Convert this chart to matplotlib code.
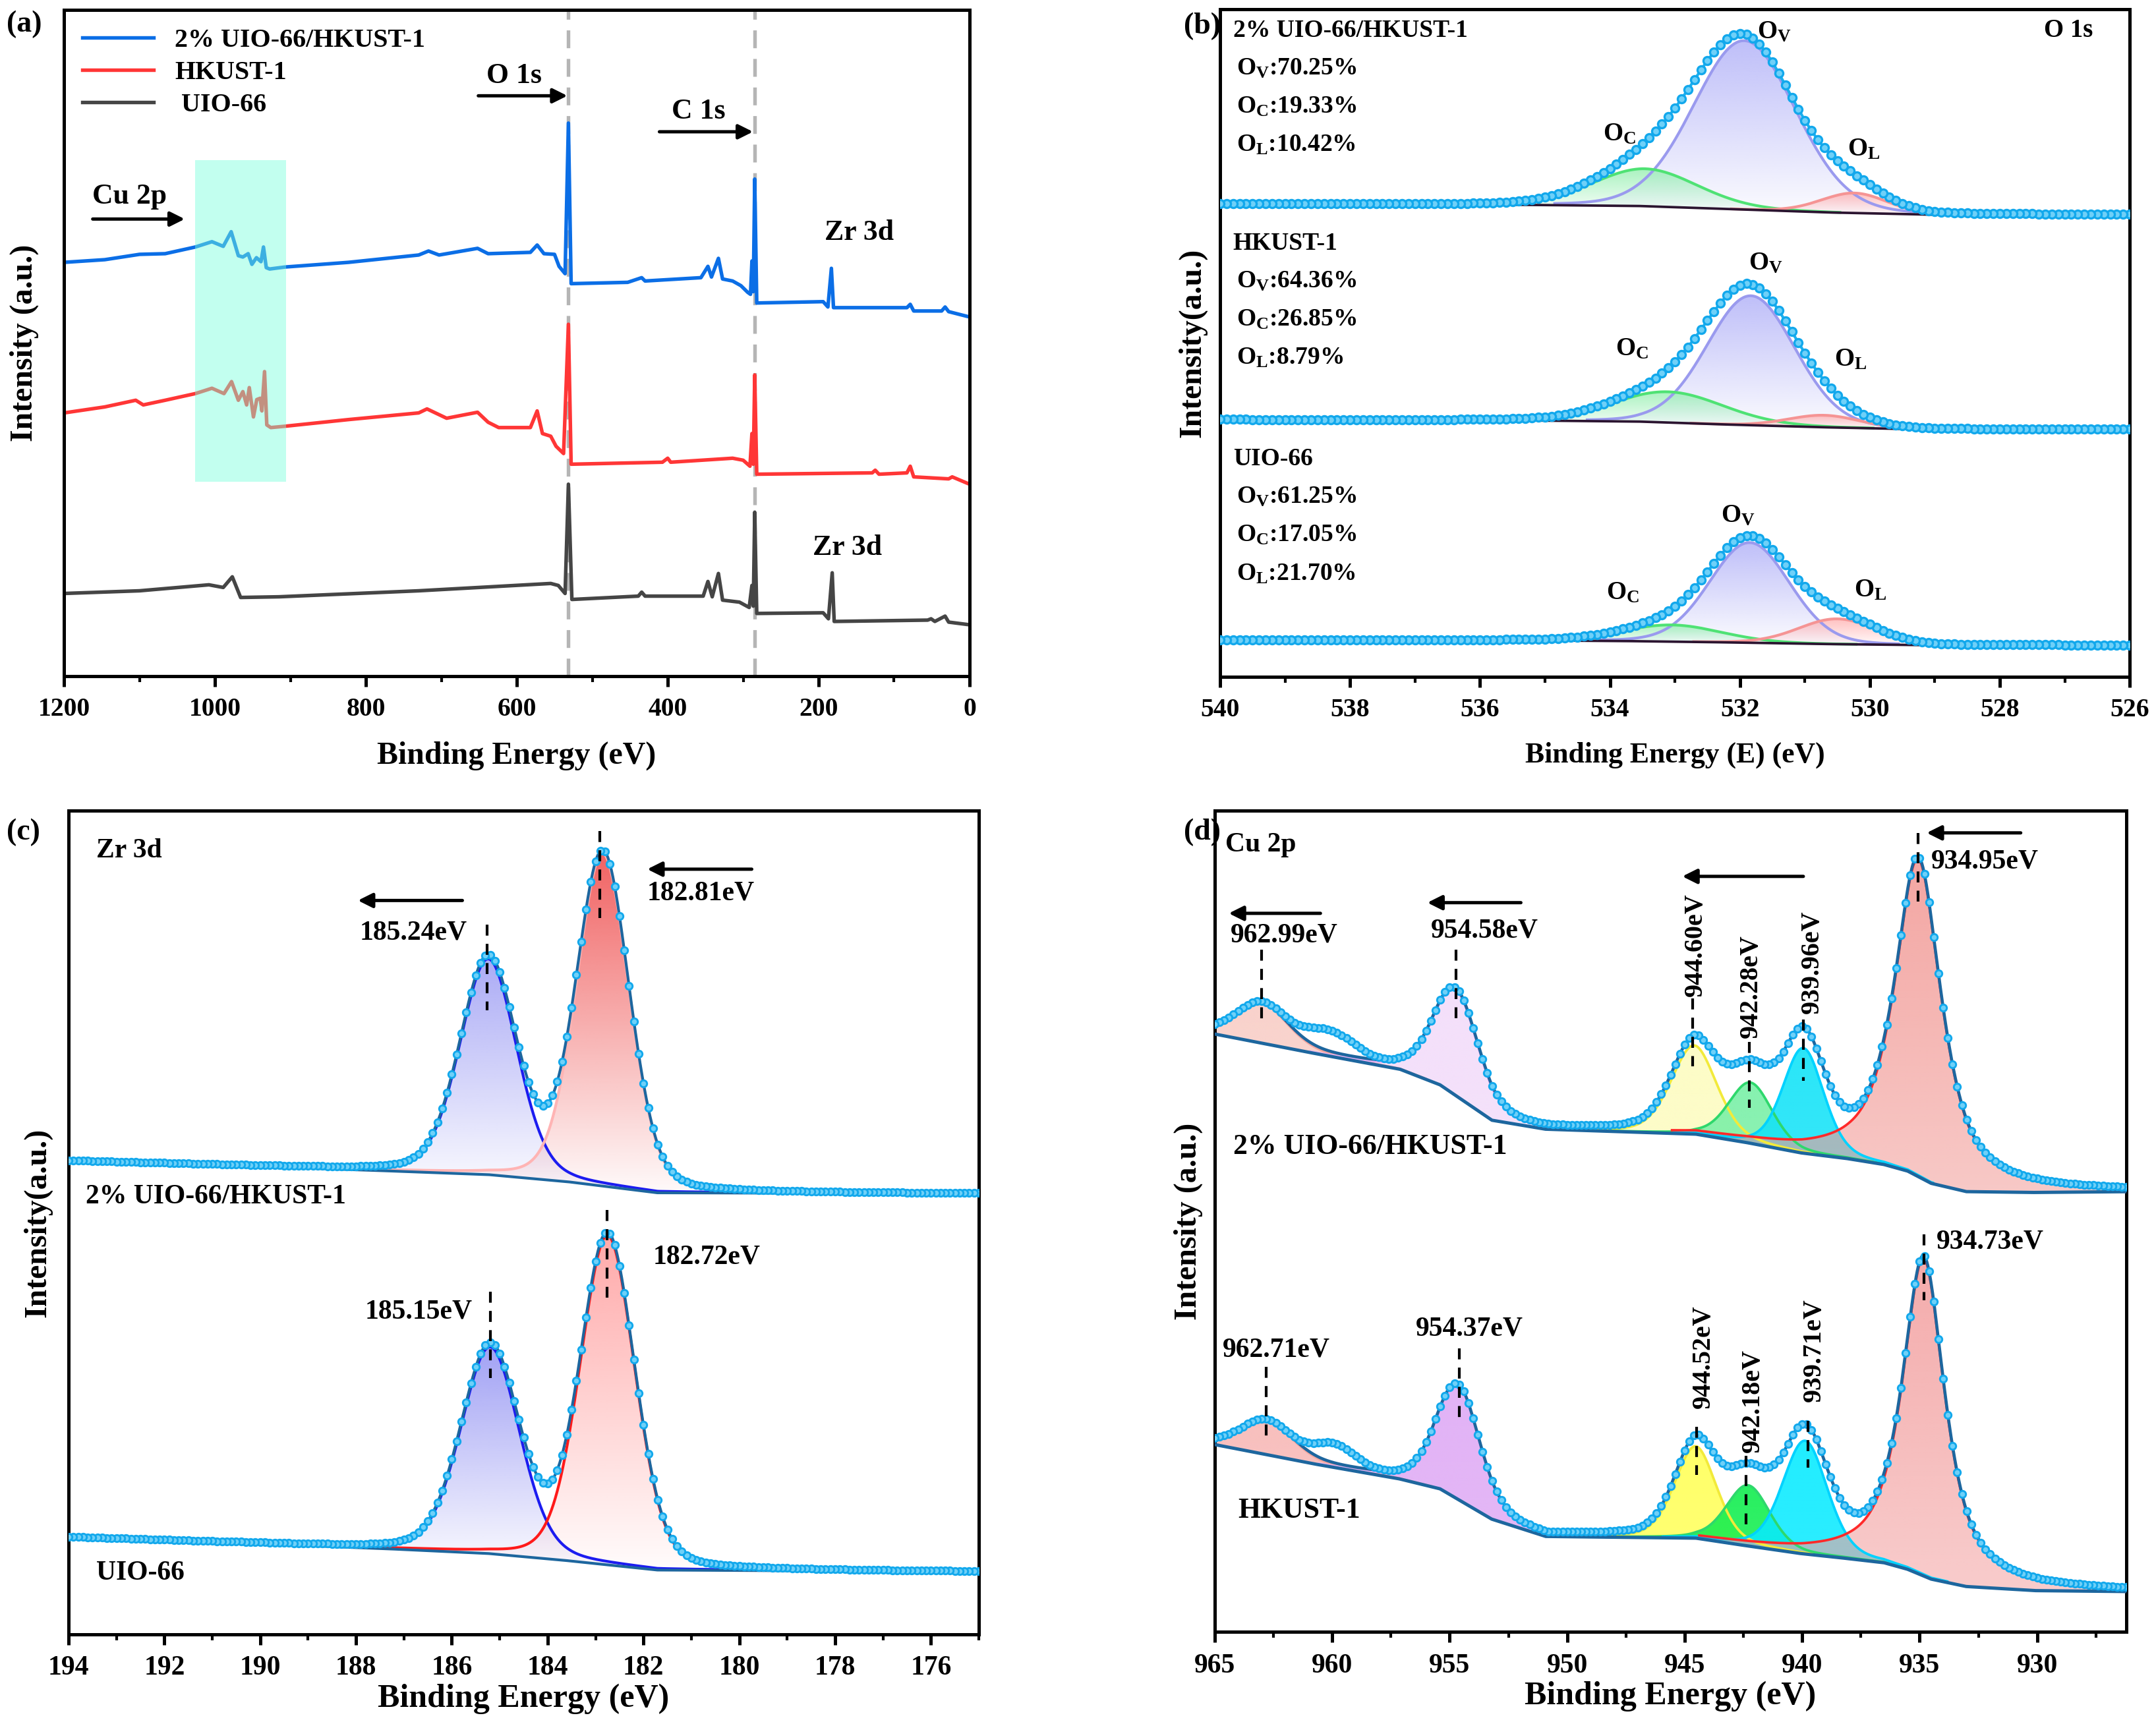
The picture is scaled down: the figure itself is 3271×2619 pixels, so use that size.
#!/usr/bin/env python3

import numpy as np
import matplotlib
matplotlib.use("Agg")
from matplotlib import pyplot as plt
from matplotlib.colors import to_rgb
from matplotlib.patches import Polygon
from matplotlib.ticker import MultipleLocator


# (a) survey spectra: binding energy (eV) and intensity (a.u., 0-100 of the axis)
survey_labels = ["2% UIO-66/HKUST-1", "HKUST-1", " UIO-66"]
blue_e = [1200, 1146, 1100, 1066, 1026, 1004, 989, 978.5, 969, 963, 956, 951,
          945, 939, 935.7, 932, 927.5, 907, 823, 730, 717, 703, 652, 638, 582,
          573, 564, 550, 544, 536, 531.6, 528, 453, 434.5, 430, 356, 346.7,
          342, 332.8, 327.3, 314, 303, 294, 290.3, 288.4, 286.6, 284.7, 282,
          194, 187.7, 183.1, 180.3, 83, 78.6, 74, 37, 32.4, 27.7, 0]
blue_i = [62.1, 62.5, 63.3, 63.4, 64.4, 65.2, 64.5, 66.7, 63.1, 62.9, 63.4, 61.8,
          62.8, 62.2, 64.4, 61.3, 61.1, 61.4, 62.1, 63.2, 63.8, 63.2, 64.2, 63.4,
          63.6, 64.7, 63.4, 63.3, 61.5, 60.4, 83.0, 58.9, 59.1, 59.8, 59.3, 59.8,
          61.5, 59.9, 62.7, 59.6, 59.3, 58.6, 57.6, 57.3, 62.3, 57.7, 74.6, 56.0,
          56.2, 55.4, 61.2, 55.3, 55.3, 55.8, 54.8, 54.8, 55.4, 54.7, 53.9]
red_e = [1200, 1146, 1105, 1095, 1066, 1026, 1004, 988, 978, 969, 963, 958,
         954.5, 949, 944.6, 940, 937.8, 934.3, 931.3, 926, 907, 823, 730, 719,
         693, 652, 638, 624, 582, 573, 566, 555, 548, 538, 531.6, 528, 407, 400,
         396, 314, 300, 291, 288.4, 286.6, 284.7, 282, 129, 125, 120, 83, 78.6,
         74, 27.7, 23, 0]
red_i = [39.5, 40.4, 41.4, 40.7, 41.4, 42.4, 43.2, 42.4, 44.2, 41.4, 42.7, 40.7,
         43.3, 38.9, 41.5, 41.7, 39.8, 45.7, 37.7, 37.3, 37.5, 38.5, 39.5, 40.1,
         38.7, 39.6, 38.1, 37.3, 37.3, 39.8, 36.4, 36.0, 34.5, 33.4, 52.8, 31.8,
         32.1, 32.7, 32.1, 32.7, 32.4, 31.5, 36.4, 31.8, 45.2, 30.3, 30.5, 30.9,
         30.3, 30.5, 31.5, 29.9, 29.6, 29.9, 28.8]
gray_e = [1200, 1100, 1008, 989, 977, 966, 915, 730, 555, 545, 536, 531.6, 527,
          439, 434.5, 430, 353, 346.7, 341, 332.8, 327.3, 305, 292, 288.4, 286.6,
          284.7, 282, 194, 187, 182, 179.4, 55.5, 51, 46, 32.4, 27.7, 0]
gray_i = [12.4, 12.8, 13.7, 13.3, 14.9, 11.8, 11.9, 12.8, 13.9, 13.6, 12.4, 28.8,
          11.5, 12.0, 12.6, 12.0, 12.0, 14.2, 11.9, 15.4, 11.4, 11.1, 10.3, 13.6,
          10.5, 24.6, 9.4, 9.5, 8.6, 15.5, 8.2, 8.4, 8.6, 8.2, 9.0, 8.1, 7.7]
survey_lines_e = [531.6, 284.7]
cu_box_e = [906, 1026]
cu_box_i = [29.2, 77.4]

# (b) O 1s fits, components in order Ov, Oc, OL
o1s_names = ["2% UIO-66/HKUST-1", "HKUST-1", "UIO-66"]
o1s_percent = [["70.25", "19.33", "10.42"],
               ["64.36", "26.85", "8.79"],
               ["61.25", "17.05", "21.70"]]
o1s_base_e = [526, 529, 530.5, 532, 533.5, 535.5, 540]
o1s_base_i = [[69.2, 69.2, 69.5, 70.0, 70.5, 70.7, 70.8],
              [37.0, 37.0, 37.3, 37.7, 38.2, 38.4, 38.5],
              [4.7, 4.7, 4.85, 5.1, 5.3, 5.45, 5.5]]
o1s_center = [[531.93, 533.46, 530.24], [531.83, 533.1, 530.7], [531.85, 533.05, 530.5]]
o1s_height = [[25.3, 5.6, 3.0], [19.4, 4.6, 1.8], [15.0, 2.5, 3.8]]
o1s_fwhm = [[1.85, 1.9, 1.2], [1.6, 2.0, 1.3], [1.45, 1.8, 1.4]]

# (c) Zr 3d fits, components 3d3/2 and 3d5/2
zr_names = ["2% UIO-66/HKUST-1", "UIO-66"]
zr_peak_labels = [["185.24eV", "182.81eV"], ["185.15eV", "182.72eV"]]
zr_base_e = [175, 181.7, 183.5, 185.2, 187, 190, 194]
zr_base_i = [[53.5, 53.6, 54.9, 55.8, 56.2, 56.8, 57.5],
             [7.6, 7.8, 8.9, 9.8, 10.3, 11.0, 11.8]]
zr_center = [[185.24, 182.85], [185.2, 182.75]]
zr_height = [[26.2, 40.4], [25.1, 40.0]]
zr_fwhm = [[1.4, 1.3], [1.45, 1.35]]

# (d) Cu 2p fits
cu_names = ["2% UIO-66/HKUST-1", "HKUST-1"]
cu_peak_labels = [["962.99eV", "954.58eV", "944.60eV", "942.28eV", "939.96eV", "934.95eV"],
                  ["962.71eV", "954.37eV", "944.52eV", "942.18eV", "939.71eV", "934.73eV"]]
cu_base_e = [926.2, 930, 933.0, 934.5, 935.5, 936.5, 938, 940, 942.2, 944.5,
             950.9, 953.2, 955.4, 957.1, 960.5, 965]
cu_base_i = [[53.6, 53.5, 53.6, 54.6, 56.1, 56.9, 57.6, 58.3, 59.5, 60.6,
              61.2, 62.3, 66.6, 68.5, 70.3, 72.8],
             [4.9, 5.0, 5.5, 6.4, 7.6, 8.4, 8.9, 9.5, 10.4, 11.4,
              11.6, 13.7, 17.4, 18.6, 20.3, 22.8]]
cu_center = [[963.0, 954.75, 944.6, 942.2, 939.95, 935.06],
             [962.8, 954.65, 944.54, 942.3, 939.88, 934.83]]
cu_height = [[4.9, 12.9, 10.8, 7.4, 12.8, 38.7],
             [4.2, 13.9, 11.2, 7.4, 13.8, 38.7]]
cu_fwhm = [[2.6, 2.3, 2.3, 2.2, 2.05, 2.36],
           [2.6, 2.2, 2.1, 2.2, 2.25, 2.15]]
cu_eta = [0.3, 0.3, 0.3, 0.3, 0.3, 0.8]
# shoulder near 960 eV in the measured points that the fit leaves out
cu_extra = [[960.1, 2.6, 2.4], [959.9, 2.4, 2.0]]

DOT_FACE = "#6fd0f8"
DOT_EDGE = "#12a8ec"
FIT_BLUE = "#1d669e"


def setup():
    plt.rcParams.update({
        "font.family": ["Liberation Serif", "DejaVu Serif"],
        "font.weight": "bold",
        "axes.labelweight": "bold",
        "mathtext.fontset": "custom",
        "mathtext.rm": "Liberation Serif:bold",
        "mathtext.it": "Liberation Serif:bold:italic",
        "mathtext.bf": "Liberation Serif:bold",
        "axes.linewidth": 1.2,
        "xtick.major.width": 1.2,
        "xtick.minor.width": 1.0,
        "xtick.major.size": 3.8,
        "xtick.minor.size": 2.2,
        "xtick.direction": "out",
        "xtick.major.pad": 4,
    })


def pseudo_voigt(x, center, height, fwhm, eta=0.2):
    u = (x - center) / fwhm
    gauss = np.exp(-4 * np.log(2) * u ** 2)
    lorentz = 1 / (1 + 4 * u ** 2)
    return height * ((1 - eta) * gauss + eta * lorentz)


def gradient_fill(ax, x, lower, upper, color, alpha_top, alpha_bottom, zorder):
    verts = np.column_stack([np.r_[x, x[::-1]], np.r_[upper, lower[::-1]]])
    patch = Polygon(verts, closed=True, facecolor="none", edgecolor="none")
    ax.add_patch(patch)
    grad = np.zeros((256, 1, 4))
    grad[..., :3] = to_rgb(color)
    grad[..., 3] = np.linspace(alpha_bottom, alpha_top, 256)[:, None]
    im = ax.imshow(grad, extent=[x.min(), x.max(), lower.min(), upper.max()],
                   origin="lower", aspect="auto", zorder=zorder,
                   interpolation="bilinear")
    im.set_clip_path(patch)


def style_axis(ax, xlim, major, minor, xlabel, ylabel, xsize, ysize, tsize,
               labelpad, ylabel_x):
    ax.set_xlim(*xlim)
    ax.set_ylim(0, 100)
    ax.xaxis.set_major_locator(MultipleLocator(major))
    ax.xaxis.set_minor_locator(MultipleLocator(minor))
    ax.set_yticks([])
    ax.tick_params(axis="x", which="both", top=False, labelsize=tsize)
    ax.set_xlabel(xlabel, fontsize=xsize, labelpad=labelpad)
    ax.set_ylabel(ylabel, fontsize=ysize)
    ax.yaxis.set_label_coords(ylabel_x, 0.5)


def arrow(ax, start, end, y):
    ax.annotate("", xy=(end, y), xytext=(start, y),
                arrowprops=dict(arrowstyle="-|>", color="k", lw=1.2,
                                mutation_scale=11, shrinkA=0, shrinkB=0),
                zorder=8)


def dashed(ax, x, y0, y1, color="k"):
    ax.plot([x, x], [y0, y1], color=color, lw=1.0, dashes=(4, 3), zorder=7)


def plot_survey(ax):
    style_axis(ax, (1200, 0), 200, 100, "Binding Energy (eV)", "Intensity (a.u.)",
               11.5, 11.5, 9.5, 7, -0.028)
    ax.plot(blue_e, blue_i, color="#0b6ee6", lw=1.3, label=survey_labels[0], zorder=2)
    ax.plot(red_e, red_i, color="#ff3636", lw=1.3, label=survey_labels[1], zorder=2)
    ax.plot(gray_e, gray_i, color="#454545", lw=1.3, label=survey_labels[2], zorder=2)
    for e in survey_lines_e:
        ax.axvline(e, color="#b5b5b5", lw=1.3, dashes=(5, 3), zorder=1)
    ax.fill_between(cu_box_e, cu_box_i[0], cu_box_i[1],
                    color=(120 / 255, 1.0, 220 / 255), alpha=0.45, lw=0, zorder=3)
    ax.legend(loc="upper left", frameon=False, fontsize=9.6, handlelength=2.7,
              handletextpad=0.8, labelspacing=0.3, borderaxespad=0.3)

    ax.text(603.7, 90.1, "O 1s", fontsize=10.5, ha="center", va="center")
    arrow(ax, 651, 533, 87.1)
    ax.text(358.7, 84.8, "C 1s", fontsize=10.5, ha="center", va="center")
    arrow(ax, 411, 287, 81.7)
    ax.text(1113, 72.0, "Cu 2p", fontsize=10.5, ha="center", va="center")
    arrow(ax, 1162, 1040, 68.6)
    ax.text(146, 66.6, "Zr 3d", fontsize=10.5, ha="center", va="center")
    ax.text(161.8, 19.3, "Zr 3d", fontsize=10.5, ha="center", va="center")


def plot_o1s(ax):
    style_axis(ax, (540, 526), 2, 1, "Binding Energy (E) (eV)", "Intensity(a.u.)",
               10.5, 11.5, 9.5, 7, -0.0145)
    xf = np.linspace(526, 540, 1401)
    xp = np.arange(526, 540.001, 0.1)
    fills = ["#a9a9f7", "#8eefab", "#ffaaaa"]
    lines = ["#9a9aee", "#4fe274", "#f59494"]
    subs = ["V", "C", "L"]
    for k in range(3):
        base_f = np.interp(xf, o1s_base_e, o1s_base_i[k])
        total = np.interp(xp, o1s_base_e, o1s_base_i[k])
        for j in range(3):
            c, h, w = o1s_center[k][j], o1s_height[k][j], o1s_fwhm[k][j]
            comp = pseudo_voigt(xf, c, h, w, 0.1)
            m = comp > 0.01 * h
            gradient_fill(ax, xf[m], base_f[m], base_f[m] + comp[m], fills[j],
                          0.75, 0.04, 2)
            ax.plot(xf[m], base_f[m] + comp[m], color=lines[j], lw=1.0, zorder=3)
            total = total + pseudo_voigt(xp, c, h, w, 0.1)
        fit = (xf >= 528.8) & (xf <= 535.6)
        ax.plot(xf[fit], base_f[fit], color="#2b1430", lw=0.9, zorder=3)
        ax.plot(xp, total, "-o", color="#1cb0ee", lw=1.0, ms=2.9, mfc=DOT_FACE,
                mec=DOT_EDGE, mew=0.8, zorder=5)

    name_y = [96.8, 64.9, 32.6]
    for k in range(3):
        ax.text(539.8, name_y[k], o1s_names[k], fontsize=9.0, ha="left", va="center")
        for j in range(3):
            ax.text(539.75, name_y[k] - 5.6 - 5.8 * j,
                    "O$_\\mathrm{%s}$:%s%%" % (subs[j], o1s_percent[k][j]),
                    fontsize=9.0, ha="left", va="center")
    ax.text(526.94, 96.8, "O 1s", fontsize=9.3, ha="center", va="center")
    peak_tags = [[(531.47, 96.6), (533.85, 81.2), (530.09, 79.0)],
                 [(531.6, 61.9), (533.66, 49.1), (530.29, 47.5)],
                 [(532.03, 24.1), (533.8, 12.5), (529.99, 12.9)]]
    for k in range(3):
        for j in range(3):
            x, y = peak_tags[k][j]
            ax.text(x, y, "O$_\\mathrm{%s}$" % subs[j], fontsize=9.3,
                    ha="center", va="center", zorder=9)


def plot_zr3d(ax):
    style_axis(ax, (194, 175), 2, 1, "Binding Energy (eV)", "Intensity(a.u.)",
               12, 11.5, 10, 1, -0.018)
    xf = np.linspace(175, 194, 1901)
    xp = np.arange(175, 194.001, 0.1)
    styles = [
        [("#9c9cf4", 0.85, "#1c1cf0"), ("#f05a5a", 0.95, "#ffb4b4")],
        [("#8a8af2", 0.80, "#1c1cf0"), ("#ff9a9a", 0.85, "#ff1a1a")],
    ]
    for k in range(2):
        base_f = np.interp(xf, zr_base_e, zr_base_i[k])
        env_f = base_f.copy()
        total = np.interp(xp, zr_base_e, zr_base_i[k])
        for j in range(2):
            c, h, w = zr_center[k][j], zr_height[k][j], zr_fwhm[k][j]
            comp = pseudo_voigt(xf, c, h, w, 0.2)
            fill, a_top, line = styles[k][j]
            m = comp > 0.004 * h
            gradient_fill(ax, xf[m], base_f[m], base_f[m] + comp[m], fill,
                          a_top, 0.03, 2)
            ax.plot(xf[m], base_f[m] + comp[m], color=line, lw=1.0, zorder=3)
            env_f = env_f + comp
            total = total + pseudo_voigt(xp, c, h, w, 0.2)
        ax.plot(xf, base_f, color=FIT_BLUE, lw=1.0, zorder=3)
        ax.plot(xf, env_f, color=FIT_BLUE, lw=1.0, zorder=4)
        ax.plot(xp, total, "o", ms=2.5, mfc=DOT_FACE, mec=DOT_EDGE, mew=0.7, zorder=5)

    ax.text(193.42, 95.1, "Zr 3d", fontsize=10, ha="left", va="center")
    ax.text(193.64, 53.1, zr_names[0], fontsize=10, ha="left", va="center")
    ax.text(193.42, 7.4, zr_names[1], fontsize=10, ha="left", va="center")

    dashed(ax, 185.27, 86.2, 75.8)
    dashed(ax, 182.91, 97.5, 87.0)
    dashed(ax, 185.19, 41.6, 31.1)
    dashed(ax, 182.76, 51.5, 40.9)
    ax.text(186.8, 85.2, zr_peak_labels[0][0], fontsize=10, ha="center", va="center")
    ax.text(180.8, 90.0, zr_peak_labels[0][1], fontsize=10, ha="center", va="center")
    ax.text(186.69, 39.2, zr_peak_labels[1][0], fontsize=10, ha="center", va="center")
    ax.text(180.68, 45.8, zr_peak_labels[1][1], fontsize=10, ha="center", va="center")
    arrow(ax, 185.78, 187.96, 89.1)
    arrow(ax, 179.74, 181.92, 92.9)


def plot_cu2p(ax):
    style_axis(ax, (965, 926.2), 5, 2.5, "Binding Energy (eV)", "Intensity (a.u.)",
               12, 11.5, 10, 1, -0.013)
    xf = np.linspace(926.2, 965, 3881)
    xp = np.arange(926.2, 965.001, 0.2)
    fills = [
        ["#f9cdc6", "#f3dcfa", "#fdfcc0", "#78f0a6", "#12e3f8", "#f29c98"],
        ["#f8b8b6", "#dfaaf5", "#ffff58", "#10ee4e", "#08ebff", "#f3a2a2"],
    ]
    lines = ["#f5a8a0", "#e2b0f2", "#f2ea3a", "#2ed86c", "#00d2ff", "#ff2a2a"]
    for k in range(2):
        base_f = np.interp(xf, cu_base_e, cu_base_i[k])
        env_f = base_f.copy()
        total = np.interp(xp, cu_base_e, cu_base_i[k])
        for j in range(6):
            c, h, w = cu_center[k][j], cu_height[k][j], cu_fwhm[k][j]
            comp = pseudo_voigt(xf, c, h, w, cu_eta[j])
            m = comp > 0.01 * h
            a_bot = 0.55 if j == 5 else 0.85
            gradient_fill(ax, xf[m], base_f[m], base_f[m] + comp[m], fills[k][j],
                          0.9, a_bot, 2)
            ax.plot(xf[m], base_f[m] + comp[m], color=lines[j], lw=0.9, zorder=3)
            env_f = env_f + comp
            total = total + pseudo_voigt(xp, c, h, w, cu_eta[j])
        ec, eh, ew = cu_extra[k]
        total = total + pseudo_voigt(xp, ec, eh, ew, 0.0)
        ax.plot(xf, base_f, color=FIT_BLUE, lw=1.2, zorder=3)
        ax.plot(xf, env_f, color=FIT_BLUE, lw=1.1, zorder=4)
        ax.plot(xp, total, "o", ms=2.5, mfc=DOT_FACE, mec=DOT_EDGE, mew=0.7, zorder=5)

    ax.text(964.55, 95.8, "Cu 2p", fontsize=10, ha="left", va="center")
    ax.text(964.2, 59.1, cu_names[0], fontsize=10.5, ha="left", va="center")
    ax.text(964.0, 14.8, cu_names[1], fontsize=10.5, ha="left", va="center")

    top, bot = cu_peak_labels
    # upper spectrum
    dashed(ax, 963.0, 83.1, 74.3)
    ax.text(962.03, 84.8, top[0], fontsize=10, ha="center", va="center")
    dashed(ax, 954.74, 83.1, 74.7)
    ax.text(953.52, 85.4, top[1], fontsize=10, ha="center", va="center")
    dashed(ax, 944.65, 77.1, 68.9)
    ax.text(944.54, 77.4, top[2], fontsize=9.6, rotation=90, ha="center", va="bottom")
    dashed(ax, 942.25, 71.8, 63.8)
    ax.text(942.17, 72.3, top[3], fontsize=9.6, rotation=90, ha="center", va="bottom")
    dashed(ax, 939.95, 74.6, 67.1)
    ax.text(939.57, 75.3, top[4], fontsize=9.6, rotation=90, ha="center", va="bottom")
    dashed(ax, 935.06, 97.3, 88.9)
    ax.text(934.5, 93.8, top[5], fontsize=10, ha="left", va="center")
    arrow(ax, 960.5, 964.4, 87.5)
    arrow(ax, 951.97, 955.95, 88.8)
    arrow(ax, 939.95, 945.1, 92.0)
    arrow(ax, 930.7, 934.7, 97.3)
    # lower spectrum
    dashed(ax, 962.8, 32.3, 23.6)
    ax.text(962.37, 34.3, bot[0], fontsize=10, ha="center", va="center")
    dashed(ax, 954.6, 34.5, 26.1)
    ax.text(954.17, 36.9, bot[1], fontsize=10, ha="center", va="center")
    dashed(ax, 944.5, 25.0, 19.1)
    ax.text(944.2, 27.2, bot[2], fontsize=9.6, rotation=90, ha="center", va="bottom")
    dashed(ax, 942.4, 21.4, 13.1)
    ax.text(942.1, 21.8, bot[3], fontsize=9.6, rotation=90, ha="center", va="bottom")
    dashed(ax, 939.76, 25.7, 20.0)
    ax.text(939.5, 28.0, bot[4], fontsize=9.6, rotation=90, ha="center", va="bottom")
    dashed(ax, 934.83, 48.4, 40.4)
    ax.text(934.3, 47.5, bot[5], fontsize=10, ha="left", va="center")


def main():
    setup()
    fig = plt.figure(figsize=(3271 / 300, 2619 / 300), dpi=300)
    ax_a = fig.add_axes([0.0297, 0.6083, 0.4200, 0.3860])
    ax_b = fig.add_axes([0.5659, 0.6080, 0.4219, 0.3867])
    ax_c = fig.add_axes([0.0318, 0.0531, 0.4222, 0.4772])
    ax_d = fig.add_axes([0.5634, 0.0546, 0.4229, 0.4757])

    plot_survey(ax_a)
    plot_o1s(ax_b)
    plot_zr3d(ax_c)
    plot_cu2p(ax_d)

    fig.text(0.003, 0.994, "(a)", fontsize=11, ha="left", va="top")
    fig.text(0.549, 0.993, "(b)", fontsize=11, ha="left", va="top")
    fig.text(0.003, 0.526, "(c)", fontsize=11, ha="left", va="top")
    fig.text(0.549, 0.526, "(d)", fontsize=11, ha="left", va="top")

    fig.savefig("out.png", dpi=300)


if __name__ == "__main__":
    main()
